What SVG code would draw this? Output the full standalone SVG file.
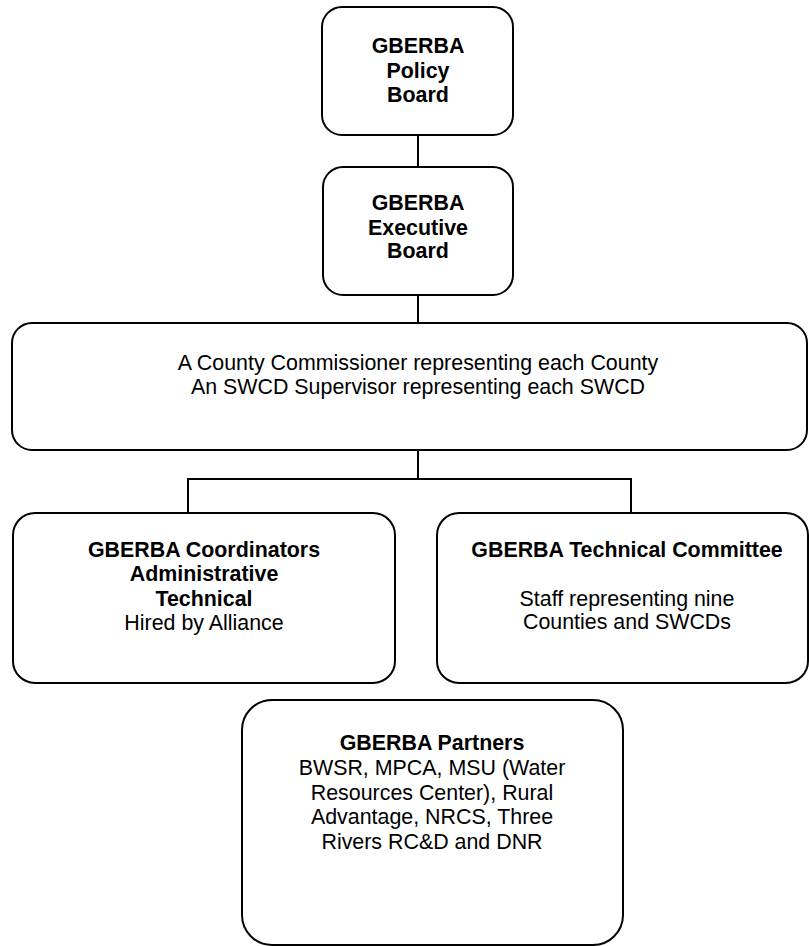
<svg xmlns="http://www.w3.org/2000/svg" width="809" height="946" viewBox="0 0 809 946">
<style>
.box{fill:#fff;stroke:#000;stroke-width:2}
.conn{stroke:#000;stroke-width:2;fill:none}
text{font-family:"Liberation Sans",Arial,sans-serif;font-size:21.4px;fill:#000;text-anchor:middle}
.b{font-weight:bold}
</style>
<rect width="809" height="946" fill="#fff"/>
<g id="connectors">
<line class="conn" x1="418" y1="135" x2="418" y2="167"/>
<line class="conn" x1="418" y1="295" x2="418" y2="323"/>
<line class="conn" x1="418" y1="450" x2="418" y2="479"/>
<line class="conn" x1="187" y1="479" x2="632" y2="479"/>
<line class="conn" x1="188" y1="479" x2="188" y2="513"/>
<line class="conn" x1="631" y1="479" x2="631" y2="513"/>
</g>
<g id="policy">
<rect class="box" x="322" y="7" width="191" height="128" rx="20"/>
<text class="b" x="418" y="53">GBERBA</text>
<text class="b" x="418" y="78">Policy</text>
<text class="b" x="418" y="102">Board</text>
</g>
<g id="executive">
<rect class="box" x="323" y="167" width="190" height="128" rx="20"/>
<text class="b" x="418" y="210">GBERBA</text>
<text class="b" x="418" y="235">Executive</text>
<text class="b" x="418" y="258">Board</text>
</g>
<g id="members">
<rect class="box" x="12" y="323" width="795" height="127" rx="20"/>
<text x="418" y="370">A County Commissioner representing each County</text>
<text x="418" y="394">An SWCD Supervisor representing each SWCD</text>
</g>
<g id="coordinators">
<rect class="box" x="13" y="513" width="382" height="170" rx="22"/>
<text class="b" x="204" y="557">GBERBA Coordinators</text>
<text class="b" x="204" y="581">Administrative</text>
<text class="b" x="204" y="606">Technical</text>
<text x="204" y="630">Hired by Alliance</text>
</g>
<g id="technical">
<rect class="box" x="437" y="513" width="371" height="170" rx="22"/>
<text class="b" x="627" y="557">GBERBA Technical Committee</text>
<text x="627" y="606">Staff representing nine</text>
<text x="627" y="629">Counties and SWCDs</text>
</g>
<g id="partners">
<rect class="box" x="242" y="700" width="381" height="245" rx="30"/>
<text class="b" x="432" y="750">GBERBA Partners</text>
<text x="432" y="775">BWSR, MPCA, MSU (Water</text>
<text x="432" y="800">Resources Center), Rural</text>
<text x="432" y="824">Advantage, NRCS, Three</text>
<text x="432" y="849">Rivers RC&amp;D and DNR</text>
</g>
</svg>
